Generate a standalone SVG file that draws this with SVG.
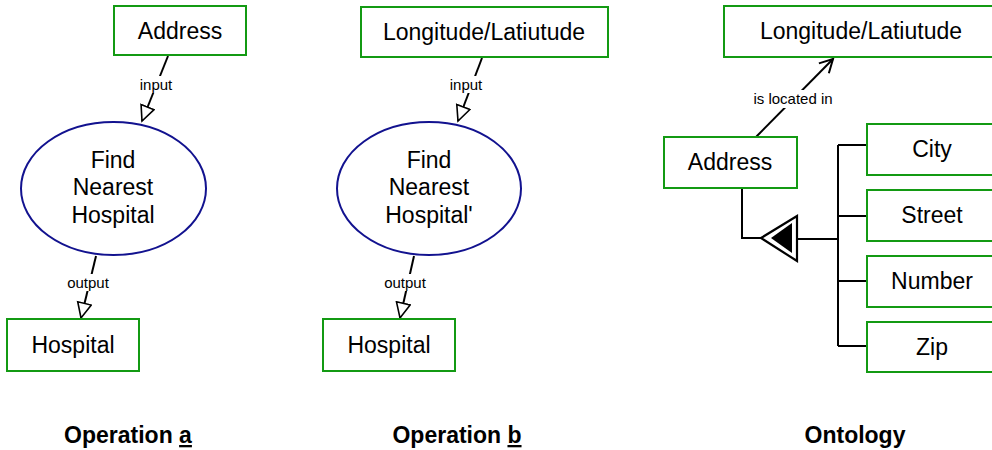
<svg xmlns="http://www.w3.org/2000/svg" width="992" height="450" viewBox="0 0 992 450">
  <style>
    .box { fill: #ffffff; stroke: #139a13; stroke-width: 2; }
    .op { fill: #ffffff; stroke: #12128f; stroke-width: 2; }
    .lbl { font-family: "Liberation Sans", Arial, sans-serif; font-size: 23px; fill: #000; text-anchor: middle; }
    .small { font-family: "Liberation Sans", Arial, sans-serif; font-size: 15px; fill: #000; text-anchor: middle; }
    .title { font-family: "Liberation Sans", Arial, sans-serif; font-size: 23px; font-weight: bold; fill: #000; text-anchor: middle; }
    .wire { fill: none; stroke: #000; stroke-width: 2; }
    .tagbg { fill: #ffffff; }
  </style>
  <defs>
    <marker id="hollow" markerWidth="20" markerHeight="20" refX="16" refY="8" orient="auto" markerUnits="userSpaceOnUse">
      <path d="M1,1 L16,8 L1,15 Z" fill="#ffffff" stroke="#000" stroke-width="1.6"/>
    </marker>
    <marker id="open" markerWidth="20" markerHeight="20" refX="15" refY="8" orient="auto" markerUnits="userSpaceOnUse">
      <path d="M2,1 L15,8 L2,15" fill="none" stroke="#000" stroke-width="2"/>
    </marker>
  </defs>

  <!-- connectors -->
  <g id="connectors">
    <!-- Operation a -->
    <line class="wire" x1="168" y1="56" x2="142" y2="121" marker-end="url(#hollow)"/>
    <rect class="tagbg" x="136" y="76" width="40" height="17"/>
    <text class="small" x="156" y="90">input</text>
    <line class="wire" x1="96" y1="256" x2="81" y2="318" marker-end="url(#hollow)"/>
    <rect class="tagbg" x="63" y="274" width="50" height="17"/>
    <text class="small" x="88" y="288">output</text>

    <!-- Operation b -->
    <line class="wire" x1="482" y1="58" x2="458" y2="121" marker-end="url(#hollow)"/>
    <rect class="tagbg" x="446" y="76" width="40" height="17"/>
    <text class="small" x="466" y="90">input</text>
    <line class="wire" x1="414" y1="256" x2="400" y2="318" marker-end="url(#hollow)"/>
    <rect class="tagbg" x="380" y="274" width="50" height="17"/>
    <text class="small" x="405" y="288">output</text>

    <!-- Ontology: is located in -->
    <line class="wire" x1="756" y1="137" x2="833" y2="59" marker-end="url(#open)"/>
    <rect class="tagbg" x="748" y="90" width="90" height="18"/>
    <text class="small" x="793" y="104">is located in</text>

    <!-- Ontology: composition of Address -->
    <polyline class="wire" points="742,188 742,238 762,238"/>
    <line class="wire" x1="797" y1="239" x2="838" y2="239"/>
    <line class="wire" x1="838" y1="145" x2="838" y2="346"/>
    <line class="wire" x1="838" y1="145" x2="867" y2="145"/>
    <line class="wire" x1="838" y1="216" x2="867" y2="216"/>
    <line class="wire" x1="838" y1="281" x2="867" y2="281"/>
    <line class="wire" x1="838" y1="346" x2="867" y2="346"/>
    <path d="M761,238 L797,216 L797,261 Z" fill="#ffffff" stroke="#000" stroke-width="2.2" stroke-linejoin="miter"/>
    <path d="M771,238 L792,223 L792,253 Z" fill="#000"/>
  </g>

  <!-- Operation a -->
  <g id="addr-a">
    <rect class="box" x="114" y="6" width="132" height="49"/>
    <text class="lbl" x="180" y="39">Address</text>
  </g>
  <g id="find-a">
    <ellipse class="op" cx="113.5" cy="188.5" rx="92.5" ry="66.5"/>
    <text class="lbl" x="113" y="168">Find</text>
    <text class="lbl" x="113" y="195">Nearest</text>
    <text class="lbl" x="113" y="223">Hospital</text>
  </g>
  <g id="hosp-a">
    <rect class="box" x="7" y="319" width="132" height="52"/>
    <text class="lbl" x="73" y="353">Hospital</text>
  </g>

  <!-- Operation b -->
  <g id="geo-b">
    <rect class="box" x="361" y="7" width="247" height="50"/>
    <text class="lbl" x="484" y="40">Longitude/Latiutude</text>
  </g>
  <g id="find-b">
    <ellipse class="op" cx="429" cy="188.5" rx="92" ry="66.5"/>
    <text class="lbl" x="429" y="168">Find</text>
    <text class="lbl" x="429" y="195">Nearest</text>
    <text class="lbl" x="429" y="223">Hospital'</text>
  </g>
  <g id="hosp-b">
    <rect class="box" x="323" y="319" width="132" height="52"/>
    <text class="lbl" x="389" y="353">Hospital</text>
  </g>

  <!-- Ontology -->
  <g id="geo-o">
    <rect class="box" x="724" y="6" width="274" height="51"/>
    <text class="lbl" x="861" y="39">Longitude/Latiutude</text>
  </g>
  <g id="addr-o">
    <rect class="box" x="664" y="137" width="133" height="51"/>
    <text class="lbl" x="730" y="170">Address</text>
  </g>
  <g id="city">
    <rect class="box" x="867" y="124" width="132" height="51"/>
    <text class="lbl" x="932" y="157">City</text>
  </g>
  <g id="street">
    <rect class="box" x="867" y="190" width="132" height="51"/>
    <text class="lbl" x="932" y="223">Street</text>
  </g>
  <g id="number">
    <rect class="box" x="867" y="256" width="132" height="51"/>
    <text class="lbl" x="932" y="289">Number</text>
  </g>
  <g id="zip">
    <rect class="box" x="867" y="322" width="132" height="50"/>
    <text class="lbl" x="932" y="355">Zip</text>
  </g>

  <!-- captions -->
  <text class="title" x="128" y="443">Operation <tspan text-decoration="underline">a</tspan></text>
  <text class="title" x="457" y="443">Operation <tspan text-decoration="underline">b</tspan></text>
  <text class="title" x="855" y="443">Ontology</text>
</svg>
